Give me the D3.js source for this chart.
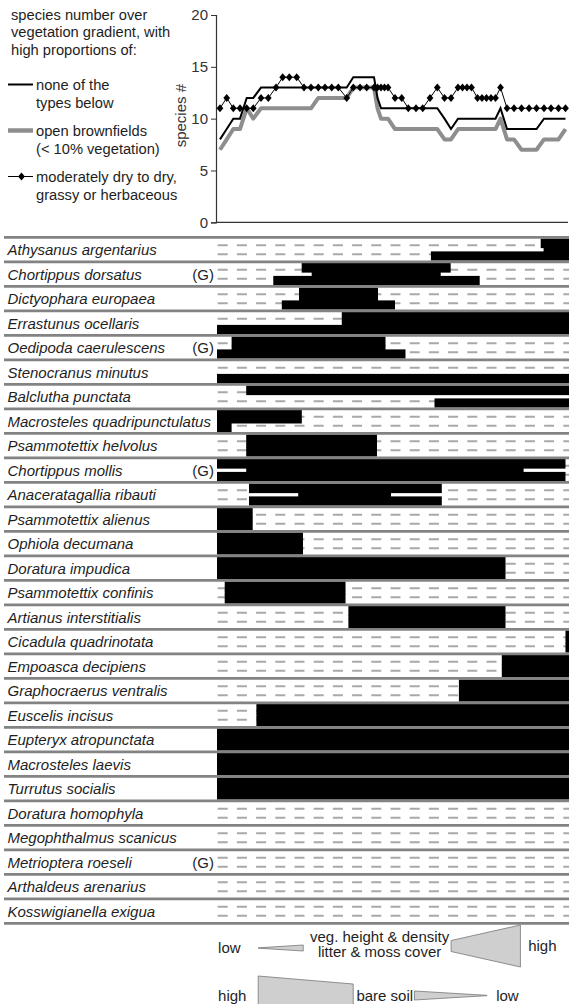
<!DOCTYPE html>
<html>
<head>
<meta charset="utf-8">
<script src="https://cdn.jsdelivr.net/npm/d3@7"></script>
<style>
  html, body { margin: 0; padding: 0; background: #fff; }
  svg { display: block; font-family: Arial, "Liberation Sans", sans-serif; }
</style>
</head>
<body>
<svg id="chart" width="569" height="1004"></svg>
<script>
// Position of each sampled plot along the vegetation gradient (0 = open, 100 = dense)
const gradientPos = [0.85, 2.76, 4.63, 6.53, 8.44, 10.31, 12.50, 14.57, 16.76, 18.66,
  20.54, 22.64, 24.72, 26.70, 28.78, 30.68, 32.59, 34.46, 36.85, 38.72,
  40.63, 42.53, 44.60, 45.60, 46.59, 47.59, 48.58, 50.57, 52.47, 54.35,
  56.53, 58.44, 60.51, 62.59, 64.63, 66.48, 68.47, 69.74, 71.02, 72.30,
  74.01, 75.28, 76.56, 77.84, 79.12, 80.54, 82.39, 84.38, 86.51, 88.64,
  90.77, 92.90, 94.89, 97.02, 99.01];

// Species number along the gradient for the three site groups
const richnessNone = [8, 9, 10, 10, 12, 12, 13, 13, 13, 13,
  13, 13, 13, 13, 13, 13, 13, 13, 13, 14,
  14, 14, 14, 12, 11, 11, 11, 11, 11, 11,
  11, 11, 11, 11, 10, 9, 10, 10, 10, 10,
  10, 10, 10, 10, 10, 11, 9, 9, 9, 9,
  9, 10, 10, 10, 10];
const richnessBrownfield = [7, 8, 9, 9, 11, 10, 11, 11, 11, 11,
  11, 11, 11, 11, 12, 12, 12, 12, 12, 13,
  13, 13, 13, 11, 10, 10, 10, 9, 9, 9,
  9, 9, 9, 9, 8, 8, 9, 9, 9, 9,
  9, 9, 9, 9, 9, 10, 8, 8, 7, 7,
  7, 8, 8, 8, 9];
const richnessDryGrassy = [11, 12, 11, 11, 11, 11, 12, 12, 13, 14,
  14, 14, 13, 13, 13, 13, 13, 13, 12, 13,
  13, 13, 13, 13, 13, 13, 13, 12, 12, 11,
  11, 11, 12, 13, 12, 12, 13, 13, 13, 13,
  12, 12, 12, 12, 12, 13, 11, 11, 11, 11,
  11, 11, 11, 11, 11];

const yTicks = [0, 5, 10, 15, 20];

const titleLines = ["species number over", "vegetation gradient, with", "high proportions of:"];
const legendLabels = [
  ["none of the", "types below"],
  ["open brownfields", "(< 10% vegetation)"],
  ["moderately dry to dry,", "grassy or herbaceous"]
];

const species = [
  "Athysanus argentarius", "Chortippus dorsatus", "Dictyophara europaea",
  "Errastunus ocellaris", "Oedipoda caerulescens", "Stenocranus minutus",
  "Balclutha punctata", "Macrosteles quadripunctulatus", "Psammotettix helvolus",
  "Chortippus mollis", "Anaceratagallia ribauti", "Psammotettix alienus",
  "Ophiola decumana", "Doratura impudica", "Psammotettix confinis",
  "Artianus interstitialis", "Cicadula quadrinotata", "Empoasca decipiens",
  "Graphocraerus ventralis", "Euscelis incisus", "Eupteryx atropunctata",
  "Macrosteles laevis", "Turrutus socialis", "Doratura homophyla",
  "Megophthalmus scanicus", "Metrioptera roeseli", "Arthaldeus arenarius",
  "Kosswigianella exigua"
];
const guildTag = ["", "(G)", "", "", "(G)", "", "", "", "", "(G)", "", "", "", "",
  "", "", "", "", "", "", "", "", "", "", "", "(G)", "", ""];

// Gradient ranges (start, end) where each species is indicated, per band of its row
const upperBand = [
  [[91.96, 100]], [[24.06, 66.39]], [[23.30, 45.74]], [[35.45, 100]], [[4.15, 47.87]],
  [], [[8.30, 100]], [[0, 24.09]], [[8.30, 45.45]], [[0, 99.0]],
  [[9.09, 63.86]], [[0, 10.14]], [[0, 24.43]], [[0, 81.96]], [[2.19, 36.51]],
  [[37.33, 81.96]], [[99.0, 100]], [[80.91, 100]], [[68.72, 100]], [[11.19, 100]],
  [[0, 100]], [[0, 100]], [[0, 100]], [], [], [], [], []
];
const middleBand = [
  [[92.78, 100]], [[26.90, 63.55]], [[23.30, 45.74]], [[35.45, 100]], [[4.15, 47.87]],
  [], [], [[0, 24.09]], [[8.30, 45.45]], [[8.30, 87.10]],
  [[23.07, 49.43]], [[0, 10.14]], [[0, 24.43]], [[0, 81.96]], [[2.19, 36.51]],
  [[37.33, 81.96]], [[99.0, 100]], [[80.91, 100]], [[68.72, 100]], [[11.19, 100]],
  [[0, 100]], [[0, 100]], [[0, 100]], [], [], [], [], []
];
const lowerBand = [
  [[60.77, 100]], [[15.99, 74.63]], [[18.41, 50.57]], [[0, 100]], [[0, 53.55]],
  [[0, 100]], [[61.79, 100]], [[0, 4.15]], [[8.30, 45.45]], [[0, 99.0]],
  [[9.09, 63.86]], [[0, 10.14]], [[0, 24.43]], [[0, 81.96]], [[2.19, 36.51]],
  [[37.33, 81.96]], [[99.0, 100]], [[80.91, 100]], [[68.72, 100]], [[11.19, 100]],
  [[0, 100]], [[0, 100]], [[0, 100]], [], [], [], [], []
];

const svg = d3.select("#chart");
const ink = "#1e1e1e";
const greyLine = "#8e8e8e";

const x = d3.scaleLinear().domain([0, 100]).range([217, 569]);
const y = d3.scaleLinear().domain([0, 20]).range([222.3, 15]);

// ---------- species-number panel ----------
const yAxis = d3.axisLeft(y).tickValues(yTicks).tickSize(5).tickPadding(3);
const gy = svg.append("g").attr("transform", "translate(216,0)").call(yAxis);
gy.select(".domain").attr("stroke", "#333").attr("stroke-width", 1.2);
gy.selectAll(".tick line").attr("stroke", "#333");
gy.selectAll(".tick text").attr("font-size", 15).attr("fill", "#333")
  .attr("font-family", "Arial, 'Liberation Sans', sans-serif");

svg.append("line").attr("x1", 216).attr("x2", 568)
  .attr("y1", y(0)).attr("y2", y(0)).attr("stroke", "#333").attr("stroke-width", 1.2);

svg.append("text").attr("transform", `translate(186,${(y(20) + y(0)) / 2 - 3}) rotate(-90)`)
  .attr("text-anchor", "middle").attr("font-size", 15).attr("fill", "#333").text("species #");

const pts = arr => gradientPos.map((g, i) => [g, arr[i]]);
const line = d3.line().x(d => x(d[0])).y(d => y(d[1]));

svg.append("path").attr("d", line(pts(richnessBrownfield))).attr("fill", "none")
  .attr("stroke", greyLine).attr("stroke-width", 4).attr("stroke-linejoin", "round");
svg.append("path").attr("d", line(pts(richnessNone))).attr("fill", "none")
  .attr("stroke", "#000").attr("stroke-width", 2);
svg.append("path").attr("d", line(pts(richnessDryGrassy))).attr("fill", "none")
  .attr("stroke", "#000").attr("stroke-width", 1);

const diamond = {
  draw(ctx, size) {
    const w = Math.sqrt(size) * 0.42, h = Math.sqrt(size) * 0.5;
    ctx.moveTo(0, -h); ctx.lineTo(w, 0); ctx.lineTo(0, h); ctx.lineTo(-w, 0); ctx.closePath();
  }
};
const diamondPath = d3.symbol().type(diamond).size(64);
svg.append("g").selectAll("path").data(pts(richnessDryGrassy)).join("path")
  .attr("transform", d => `translate(${x(d[0])},${y(d[1])})`)
  .attr("d", diamondPath).attr("fill", "#000");

// title and legend
svg.append("g").selectAll("text").data(titleLines).join("text")
  .attr("x", 11).attr("y", (d, i) => 19.5 + i * 17.5)
  .attr("font-size", 14.7).attr("fill", ink).text(d => d);

const legendY = [84.5, 130.5, 176.5];
const lg = svg.append("g");
lg.append("line").attr("x1", 8).attr("x2", 33).attr("y1", legendY[0]).attr("y2", legendY[0])
  .attr("stroke", "#000").attr("stroke-width", 2);
lg.append("line").attr("x1", 8).attr("x2", 33).attr("y1", legendY[1]).attr("y2", legendY[1])
  .attr("stroke", greyLine).attr("stroke-width", 4.5);
lg.append("line").attr("x1", 8).attr("x2", 33).attr("y1", legendY[2]).attr("y2", legendY[2])
  .attr("stroke", "#000").attr("stroke-width", 1);
lg.append("path").attr("transform", `translate(21.5,${legendY[2]})`).attr("d", diamondPath).attr("fill", "#000");
legendLabels.forEach((pair, k) => {
  pair.forEach((t, j) => {
    lg.append("text").attr("x", 36).attr("y", legendY[k] + 5.5 + j * 18)
      .attr("font-size", 14.7).attr("fill", ink).text(t);
  });
});

// ---------- species occurrence rows ----------
const row = d3.scaleBand().domain(species).range([237.3, 923.3]);
const rh = row.bandwidth();
const inset = 1.5;
const bandFrac = { upper: [0, 0.42], middle: [0.42, 0.6], lower: [0.6, 1] };
const bandY = (name, key, f) => row(name) + inset + (rh - 2 * inset) * bandFrac[key][f];

const rows = svg.append("g").selectAll("g").data(species).join("g");

// dashed background of the two bands
[0.3, 0.72].forEach(f => {
  rows.append("line")
    .attr("x1", x(0) + 0.7).attr("x2", 569)
    .attr("y1", d => row(d) + inset + (rh - 2 * inset) * f)
    .attr("y2", d => row(d) + inset + (rh - 2 * inset) * f)
    .attr("stroke", "#a9a9a9").attr("stroke-width", 2)
    .attr("stroke-dasharray", "10,9.2");
});

// white gap between bands
rows.append("rect")
  .attr("x", x(0)).attr("width", x(100) - x(0))
  .attr("y", d => bandY(d, "middle", 0)).attr("height", d => bandY(d, "middle", 1) - bandY(d, "middle", 0))
  .attr("fill", "#fff");

const bands = { upper: upperBand, middle: middleBand, lower: lowerBand };
Object.keys(bands).forEach(key => {
  rows.each(function (name, i) {
    d3.select(this).selectAll(`rect.${key}`).data(bands[key][i]).join("rect")
      .attr("class", key)
      .attr("x", r => x(r[0])).attr("width", r => x(r[1]) - x(r[0]))
      .attr("y", bandY(name, key, 0) - 0.3)
      .attr("height", bandY(name, key, 1) - bandY(name, key, 0) + 0.6)
      .attr("fill", "#000");
  });
});

rows.append("text").attr("x", 7.5).attr("y", d => row(d) + rh / 2 + 5.5)
  .attr("font-size", 15).attr("font-style", "italic").attr("fill", ink).text(d => d);
rows.append("text").attr("x", 214).attr("y", d => row(d) + rh / 2 + 5.5)
  .attr("text-anchor", "end").attr("font-size", 15).attr("fill", ink)
  .text((d, i) => guildTag[i]);

// row separators
svg.append("g").selectAll("line").data(d3.range(species.length + 1)).join("line")
  .attr("x1", 4).attr("x2", 569)
  .attr("y1", i => 237.3 + i * rh).attr("y2", i => 237.3 + i * rh)
  .attr("stroke", "#838383").attr("stroke-width", 2.8);

// ---------- gradient key ----------
const key = svg.append("g").attr("font-size", 15).attr("fill", ink);
const wedge = (x0, x1, yc, h0, h1) =>
  `M${x(x0)},${yc - h0 / 2}L${x(x1)},${yc - h1 / 2}L${x(x1)},${yc + h1 / 2}L${x(x0)},${yc + h0 / 2}Z`;

key.append("text").attr("x", x(0.3)).attr("y", 953).text("low");
key.append("path").attr("d", wedge(11.7, 24.5, 948, 0.3, 6)).attr("fill", "#cfcfcf").attr("stroke", "#777").attr("stroke-width", 0.8);
key.append("text").attr("x", x(46.2)).attr("y", 941.5).attr("text-anchor", "middle").text("veg. height & density");
key.append("text").attr("x", x(46.2)).attr("y", 956.5).attr("text-anchor", "middle").text("litter & moss cover");
key.append("path").attr("d", wedge(66.5, 86.2, 946, 11, 42)).attr("fill", "#cfcfcf").attr("stroke", "#777").attr("stroke-width", 0.8);
key.append("text").attr("x", x(88.4)).attr("y", 951).text("high");

key.append("text").attr("x", x(0.3)).attr("y", 1001).text("high");
key.append("path").attr("d", wedge(11.7, 38.7, 996, 40, 24)).attr("fill", "#cfcfcf").attr("stroke", "#777").attr("stroke-width", 0.8);
key.append("text").attr("x", x(39.6)).attr("y", 1001).text("bare soil");
key.append("path").attr("d", wedge(56.1, 76.7, 995.5, 9, 0.3)).attr("fill", "#cfcfcf").attr("stroke", "#777").attr("stroke-width", 0.8);
key.append("text").attr("x", x(79.3)).attr("y", 1001).text("low");
</script>
</body>
</html>
